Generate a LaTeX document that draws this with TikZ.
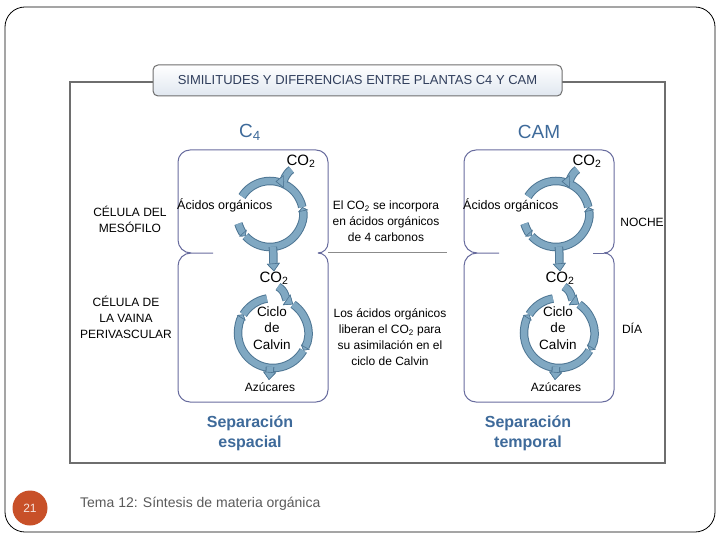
\documentclass[tikz,border=0pt]{standalone}
\usepackage{fontspec}
\setmainfont{Liberation Sans}
\usetikzlibrary{arrows.meta,calc}
\definecolor{flowfill}{RGB}{128,168,194}
\definecolor{flowedge}{RGB}{78,118,148}
\definecolor{boxline}{RGB}{104,108,158}
\definecolor{framegray}{RGB}{110,110,110}
\definecolor{titleink}{RGB}{48,62,92}
\definecolor{titlefill}{RGB}{224,231,240}
\definecolor{plantblue}{RGB}{62,106,154}
\definecolor{slideorange}{RGB}{200,80,40}
\definecolor{footgray}{RGB}{90,90,90}

\begin{document}
\begin{tikzpicture}[x=1pt, y=1pt,
  cellbox/.style={draw=boxline, line width=1pt},
  flow/.style={draw=flowfill, line width=6.5pt,
               preaction={draw=flowedge, line width=8.5pt}},
  intip/.style={-{Triangle[width=13pt, length=8pt, line width=0.6pt, color=flowedge, fill=flowfill]}},
  chev/.style={-{Triangle[width=10pt, length=4pt, line width=0.6pt, color=flowedge, fill=flowfill]}},
  lbl/.style={font=\fontsize{12}{16}\selectfont, align=center, inner sep=0pt},
  co2/.style={font=\fontsize{15}{17}\selectfont, inner sep=0pt},
  cyc/.style={font=\fontsize{13.5}{16.5}\selectfont, align=center, inner sep=0pt},
  plant/.style={font=\fontsize{19}{22}\selectfont, text=plantblue, inner sep=0pt},
  sepa/.style={font=\bfseries\fontsize{16}{20}\selectfont, text=plantblue, align=center, inner sep=0pt},
]
\useasboundingbox (0,0) rectangle (720,-540);

% slide and frame
\draw[black, line width=0.8pt, rounded corners=20pt] (5,-7) rectangle (715,-532);
\draw[framegray, line width=1.2pt] (70,-82) rectangle (665,-463);
\node[draw=framegray, line width=1pt, rounded corners=5pt, top color=white, bottom color=titlefill,
      minimum width=409pt, minimum height=31pt, inner sep=0pt, text=titleink,
      font=\fontsize{13}{15}\selectfont] (title) at (357.5,-80.5)
      {SIMILITUDES Y DIFERENCIAS ENTRE PLANTAS C4 Y CAM};

\node[plant] (c4) at (250,-132) {C\textsubscript{4}};
\node[plant] (cam) at (539,-132) {CAM};

\foreach \p/\dx in {c4/0, cam/286}{
  % two cells
  \draw[cellbox] (213+\dx,-253) -- (191+\dx,-253) arc[start angle=270, end angle=180, radius=13]
    -- (178+\dx,-162) arc[start angle=180, end angle=90, radius=12]
    -- (316+\dx,-150) arc[start angle=90, end angle=0, radius=12]
    -- (328+\dx,-243) arc[start angle=0, end angle=-90, radius=10];
  \draw[cellbox] (318+\dx,-253) arc[start angle=90, end angle=0, radius=10]
    -- (328+\dx,-390) arc[start angle=0, end angle=-90, radius=12]
    -- (190+\dx,-402) arc[start angle=270, end angle=180, radius=12]
    -- (178+\dx,-266) arc[start angle=180, end angle=90, radius=13];

  \coordinate (\p-up) at (270+\dx,-214);
  \coordinate (\p-lo) at (273+\dx,-333);
  \node[co2] (\p-co2a) at (301+\dx,-161) {CO\textsubscript{2}};
  \node[lbl, anchor=west, font=\fontsize{12.5}{16}\selectfont] (\p-acid) at (177+\dx,-205) {Ácidos orgánicos};
  \node[co2] (\p-co2b) at (274+\dx,-278) {CO\textsubscript{2}};
  \node[cyc] (\p-calvin) at (272+\dx,-328) {Ciclo\\de\\Calvin};
  \node[lbl, anchor=north] (\p-azu) at (270+\dx,-382) {Azúcares};
  \coordinate (\p-sug) at (269+\dx,-380);

  % upper cycle
  \draw[flow, chev] (\p-up) ++(197:33) arc[start angle=197, end angle=222, radius=33];
  \draw[flow, chev] (\p-up) ++(222:33) arc[start angle=222, end angle=372, radius=33];
  \draw[flow] (\p-up) ++(12:33) arc[start angle=12, end angle=148, radius=33];
  \draw[flow, intip] ($(\p-co2a.south west)+(5,-2)$) to[out=215, in=0] ($(\p-up)+(80:33)$);
  \draw[flow, intip] (\p-up) ++(275:33) to[out=-85, in=95] (\p-co2b.north);

  % lower cycle
  \draw[flow, chev] (\p-lo) ++(55:35) arc[start angle=55, end angle=-30, radius=35];
  \draw[flow, chev] (\p-lo) ++(-30:35) arc[start angle=-30, end angle=-212, radius=35];
  \draw[flow] (\p-lo) ++(148:35) arc[start angle=148, end angle=100, radius=35];
  \draw[flow, intip] ($(\p-co2b.south)+(4,-2)$) to[out=-30, in=145] ($(\p-lo)+(55:35)$);
  \draw[flow, intip] (\p-lo) ++(265:34) -- (\p-sug);
}
\draw[cellbox] (604,-253) -- (593,-253);
\draw[framegray!80, line width=1pt] (328,-252) -- (447,-252);

% side and middle labels
\node[lbl] (meso) at (130,-219) {CÉLULA DEL\\MESÓFILO};
\node[lbl] (vaina) at (126,-317) {CÉLULA DE\\LA VAINA\\PERIVASCULAR};
\node[lbl] (incorp) at (386,-221) {El CO\textsubscript{2} se incorpora\\en ácidos orgánicos\\de 4 carbonos};
\node[lbl] (libera) at (390,-337) {Los ácidos orgánicos\\liberan el CO\textsubscript{2} para\\su asimilación en el\\ciclo de Calvin};
\node[lbl] (noche) at (642,-222) {NOCHE};
\node[lbl] (dia) at (632,-328) {DÍA};

\node[sepa] (espacial) at (250,-433) {Separación\\espacial};
\node[sepa] (temporal) at (528,-433) {Separación\\temporal};

% footer
\node[circle, fill=slideorange, minimum size=35pt, inner sep=0pt, text=white!85!slideorange,
      font=\fontsize{12}{14}\selectfont] (pgnum) at (30,-508) {21};
\node[anchor=west, inner sep=0pt, text=footgray, font=\fontsize{14}{16}\selectfont] (footer)
      at (80,-504) {Tema 12: Síntesis de materia orgánica};
\end{tikzpicture}
\end{document}
